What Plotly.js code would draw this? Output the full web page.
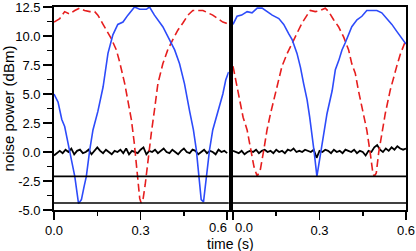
<!DOCTYPE html>
<html><head><meta charset="utf-8">
<script src="https://cdn.plot.ly/plotly-3.0.1.min.js"></script>
<style>html,body{margin:0;padding:0;background:#fff}#plot{width:416px;height:251px}</style>
</head><body><div id="plot"></div>
<script>
// ---- data ----
const blueL_x = [0, 0.014, 0.027, 0.037, 0.05, 0.06, 0.072, 0.085, 0.095, 0.104, 0.112, 0.124, 0.135, 0.152, 0.17, 0.187, 0.204, 0.221, 0.239, 0.256, 0.279, 0.297, 0.32, 0.331, 0.348, 0.377, 0.40, 0.418, 0.435, 0.452, 0.47, 0.483, 0.493, 0.502, 0.51, 0.518, 0.527, 0.539, 0.55, 0.562, 0.572, 0.585, 0.595, 0.605];
const blueL_y = [5.0, 4.3, 2.8, 2.2, 0.6, -0.7, -2.1, -4.45, -4.1, -3.0, -2.1, 0.2, 1.9, 3.5, 5.6, 8.5, 10.1, 11.0, 11.2, 11.8, 12.5, 12.3, 12.3, 12.5, 11.8, 10.8, 9.7, 8.8, 7.6, 5.9, 3.5, 1.9, 0.2, -2.1, -4.1, -4.3, -2.1, 0.2, 1.9, 3.0, 3.8, 5.0, 6.2, 6.9];
const redL_x = [0, 0.02, 0.037, 0.054, 0.072, 0.089, 0.106, 0.124, 0.141, 0.152, 0.17, 0.187, 0.198, 0.216, 0.227, 0.245, 0.256, 0.268, 0.278, 0.288, 0.297, 0.302, 0.309, 0.316, 0.325, 0.337, 0.348, 0.36, 0.377, 0.394, 0.412, 0.429, 0.446, 0.464, 0.481, 0.498, 0.516, 0.533, 0.55, 0.567, 0.585, 0.597, 0.605];
const redL_y = [11.2, 11.5, 12.1, 11.9, 12.2, 12.4, 12.2, 12.1, 12.1, 11.8, 11.0, 10.2, 9.8, 8.8, 7.8, 5.9, 4.5, 2.8, 0.8, -1.6, -4.0, -4.4, -4.0, -2.8, -0.7, 1.6, 3.6, 5.9, 7.6, 8.8, 9.7, 10.5, 11.1, 11.8, 12.2, 12.2, 12.2, 12.0, 11.8, 11.5, 11.2, 11.1, 10.9];
const blueR_x = [0, 0.014, 0.03, 0.049, 0.066, 0.084, 0.101, 0.118, 0.136, 0.159, 0.176, 0.193, 0.205, 0.222, 0.234, 0.245, 0.257, 0.266, 0.274, 0.282, 0.291, 0.303, 0.314, 0.326, 0.344, 0.355, 0.367, 0.378, 0.389, 0.401, 0.412, 0.43, 0.447, 0.464, 0.482, 0.499, 0.516, 0.534, 0.551, 0.568, 0.585, 0.596, 0.6];
const blueR_y = [11.0, 11.7, 11.8, 12.1, 12.0, 12.4, 12.4, 12.1, 11.8, 11.5, 11.0, 10.2, 9.7, 8.5, 7.3, 5.9, 4.5, 3.0, 1.6, -0.1, -2.1, -0.1, 1.6, 3.3, 5.3, 7.1, 7.9, 8.8, 9.4, 10.2, 10.8, 11.4, 11.7, 12.2, 12.2, 12.2, 12.0, 11.5, 11.0, 10.4, 9.8, 9.4, 9.3];
const redR_x = [0, 0.014, 0.026, 0.035, 0.049, 0.061, 0.073, 0.084, 0.095, 0.107, 0.118, 0.130, 0.147, 0.159, 0.170, 0.188, 0.205, 0.222, 0.239, 0.257, 0.268, 0.285, 0.303, 0.320, 0.332, 0.349, 0.366, 0.384, 0.401, 0.412, 0.424, 0.435, 0.447, 0.455, 0.464, 0.476, 0.485, 0.49, 0.497, 0.505, 0.516, 0.528, 0.545, 0.557, 0.568, 0.580, 0.591, 0.6];
const redR_y = [7.4, 5.6, 4.2, 3.0, 1.9, 0.2, -1.3, -2.1, -1.5, 0.2, 1.9, 3.3, 5.1, 6.2, 7.4, 8.5, 9.4, 10.2, 11.1, 11.8, 12.2, 12.1, 12.2, 12.4, 12.1, 11.4, 10.8, 9.9, 8.8, 7.6, 6.8, 5.3, 3.9, 3.0, 1.9, -0.1, -1.8, -2.1, -1.8, -0.1, 1.6, 3.3, 5.3, 6.5, 7.4, 8.4, 9.2, 9.7];
const noise_x = [0, 0.01, 0.02, 0.03, 0.04, 0.05, 0.06, 0.07, 0.08, 0.09, 0.1, 0.11, 0.12, 0.13, 0.14, 0.15, 0.16, 0.17, 0.18, 0.19, 0.2, 0.21, 0.22, 0.23, 0.24, 0.25, 0.26, 0.27, 0.28, 0.29, 0.3, 0.31, 0.32, 0.33, 0.34, 0.35, 0.36, 0.37, 0.38, 0.39, 0.4, 0.41, 0.42, 0.43, 0.44, 0.45, 0.46, 0.47, 0.48, 0.49, 0.5, 0.51, 0.52, 0.53, 0.54, 0.55, 0.56, 0.57, 0.58, 0.59, 0.6];
const noiseL_y = [-0.3, -0.1, 0.1, -0.1, 0.2, 0.0, 0.3, -0.2, 0.1, 0.2, -0.1, 0.0, 0.2, -0.2, 0.1, 0.4, 0.1, -0.1, 0.2, 0.0, -0.2, 0.1, 0.0, 0.2, -0.1, 0.3, -0.2, 0.1, 0.0, -0.1, 0.2, 0.4, -0.2, 0.1, 0.0, 0.2, -0.1, 0.1, 0.3, 0.0, -0.1, 0.2, 0.0, -0.2, 0.1, 0.3, 0.0, -0.1, 0.2, 0.1, -0.2, 0.0, 0.2, -0.1, 0.1, 0.0, -0.2, 0.2, 0.0, 0.1, -0.1];
const noiseR_y = [0.1, 0.0, -0.1, 0.1, -0.2, 0.0, 0.1, 0.0, 0.2, -0.1, 0.1, 0.2, 0.0, 0.1, -0.1, 0.2, 0.0, 0.1, -0.1, 0.2, 0.1, 0.3, 0.0, 0.1, 0.0, 0.2, 0.1, 0.0, 0.2, -0.5, 0.1, 0.0, 0.2, 0.1, -0.1, 0.2, 0.0, 0.1, -0.1, 0.2, 0.1, 0.0, 0.2, -0.1, 0.1, 0.0, -0.3, 0.1, 0.0, 0.4, 0.6, 0.2, 0.0, 0.3, 0.1, 0.4, 0.2, 0.5, 0.3, 0.2, 0.3];
const floorHigh = -2.1;
const floorLow = -4.4;
const yTickVals = [-5, -2.5, 0, 2.5, 5, 7.5, 10, 12.5];
const yTickText = ['-5.0', '-2.5', '0.0', '2.5', '5.0', '7.5', '10.0', '12.5'];
const yMinorVals = [-3.75, -1.25, 1.25, 3.75, 6.25, 8.75, 11.25];
const xTickVals = [0, 0.3, 0.6];
const xTickTextL = ['0.0', '0.3', ''];
const xTickTextR = ['', '0.3', '0.6'];
const xMinorVals = [0.15, 0.45];

const BLUE = 'rgb(45,75,250)';
const RED = 'rgb(230,30,30)';
const FONT = 'Liberation Sans, Arial, sans-serif';

const traces = [
  {x: noise_x, y: noiseL_y, xaxis: 'x', yaxis: 'y', mode: 'lines', line: {color: '#000', width: 1.8}},
  {x: redL_x, y: redL_y, xaxis: 'x', yaxis: 'y', mode: 'lines', line: {color: RED, width: 1.6, dash: '8px,4px'}},
  {x: blueL_x, y: blueL_y, xaxis: 'x', yaxis: 'y', mode: 'lines', line: {color: BLUE, width: 1.6}},
  {x: noise_x, y: noiseR_y, xaxis: 'x2', yaxis: 'y2', mode: 'lines', line: {color: '#000', width: 1.8}},
  {x: redR_x, y: redR_y, xaxis: 'x2', yaxis: 'y2', mode: 'lines', line: {color: RED, width: 1.6, dash: '8px,4px'}},
  {x: blueR_x, y: blueR_y, xaxis: 'x2', yaxis: 'y2', mode: 'lines', line: {color: BLUE, width: 1.6}}
];

const xCommon = {
  showline: true, mirror: true, linecolor: '#000', linewidth: 1.8,
  ticks: 'outside', ticklen: 8, tickwidth: 1.5, tickcolor: '#000',
  tickmode: 'array', tickvals: xTickVals,
  minor: {tickmode: 'array', tickvals: xMinorVals, ticks: 'outside', ticklen: 4, tickwidth: 1.5, tickcolor: '#000', showgrid: false},
  showgrid: false, zeroline: false, fixedrange: true,
  tickfont: {family: FONT, size: 13, color: '#000'}
};
const yCommon = {
  range: [-5, 12.5], showline: true, mirror: true, linecolor: '#000', linewidth: 1.8,
  showgrid: false, zeroline: false, fixedrange: true
};

const layout = {
  width: 416, height: 251,
  margin: {l: 54, r: 10, t: 7, b: 41, pad: 0},
  paper_bgcolor: '#fff', plot_bgcolor: '#fff',
  showlegend: false,
  font: {family: FONT, size: 13, color: '#000'},
  xaxis: Object.assign({}, xCommon, {domain: [0, 0.4965], range: [0, 0.6055], anchor: 'y', ticktext: xTickTextL}),
  xaxis2: Object.assign({}, xCommon, {domain: [0.5085, 1], range: [0, 0.6], anchor: 'y2', ticktext: xTickTextR}),
  yaxis: Object.assign({}, yCommon, {
    anchor: 'x', tickmode: 'array', tickvals: yTickVals, ticktext: yTickText,
    ticks: 'outside', ticklen: 9, tickwidth: 1.5, tickcolor: '#000', ticklabeloverflow: 'allow',
    minor: {tickmode: 'array', tickvals: yMinorVals, ticks: 'outside', ticklen: 5, tickwidth: 1.5, tickcolor: '#000', showgrid: false},
    tickfont: {family: FONT, size: 13, color: '#000'},
    title: {text: 'noise power (dBm)', font: {family: FONT, size: 15, color: '#000'}, standoff: 6}
  }),
  yaxis2: Object.assign({}, yCommon, {anchor: 'x2', matches: 'y', showticklabels: false, ticks: ''}),
  shapes: [
    {type: 'line', xref: 'x domain', yref: 'y', x0: 0, x1: 1, y0: floorHigh, y1: floorHigh, line: {color: '#000', width: 1.6}},
    {type: 'line', xref: 'x domain', yref: 'y', x0: 0, x1: 1, y0: floorLow, y1: floorLow, line: {color: '#000', width: 1.6}},
    {type: 'line', xref: 'x2 domain', yref: 'y2', x0: 0, x1: 1, y0: floorHigh, y1: floorHigh, line: {color: '#000', width: 1.6}},
    {type: 'line', xref: 'x2 domain', yref: 'y2', x0: 0, x1: 1, y0: floorLow, y1: floorLow, line: {color: '#000', width: 1.6}}
  ],
  annotations: [
    {xref: 'x', yref: 'paper', x: 0.6, y: 0, yanchor: 'top', xanchor: 'right', xshift: 1, yshift: -9, borderpad: 0, showarrow: false, text: '0.6', font: {family: FONT, size: 13, color: '#000'}},
    {xref: 'x2', yref: 'paper', x: 0, y: 0, yanchor: 'top', xanchor: 'left', xshift: 1, yshift: -9, borderpad: 0, showarrow: false, text: '0.0', font: {family: FONT, size: 13, color: '#000'}},
    {xref: 'paper', yref: 'paper', x: 0.5025, y: 0, yanchor: 'top', xanchor: 'center', yshift: -25, borderpad: 0, showarrow: false, text: 'time (s)', font: {family: FONT, size: 14, color: '#000'}}
  ]
};

Plotly.newPlot('plot', traces, layout, {staticPlot: true, displayModeBar: false});
</script></body></html>
